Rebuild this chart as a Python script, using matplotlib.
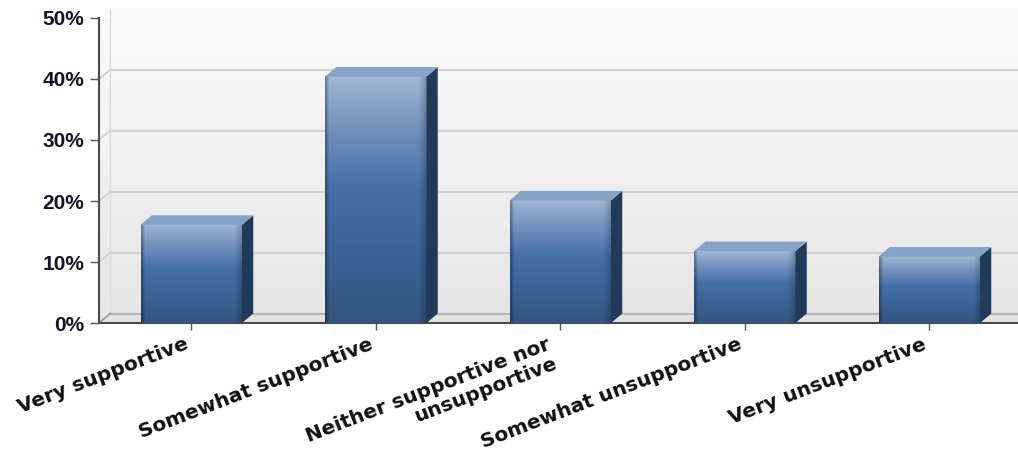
import numpy as np
import matplotlib.pyplot as plt
from matplotlib.colors import to_rgb
from matplotlib.patches import Polygon

categories = ["Very supportive", "Somewhat supportive", "Neither supportive nor\nunsupportive",
              "Somewhat unsupportive", "Very unsupportive"]
values = [16.1, 40.4, 20.1, 11.8, 10.9]
y_ticks = [0, 10, 20, 30, 40, 50]
y_tick_labels = ["0%", "10%", "20%", "30%", "40%", "50%"]

n = len(categories)
dx, dy = 0.061, 1.55   # depth of the fake 3d
bw = 0.55
right_end = n + dx + 0.3


def vgrad(stops, colors, rows=256):
    t = np.linspace(0, 1, rows)
    cols = np.array([to_rgb(c) for c in colors])
    return np.stack([np.interp(t, stops, cols[:, k]) for k in range(3)], axis=1)


fig = plt.figure(figsize=(10.18, 4.51), dpi=100)
ax = fig.add_axes([0.09725, 0.2838, 0.9062, 0.6763])
ax.set_facecolor("white")

# back wall
wall = vgrad([0, 1], ["#e6e6e6", "#fbfbfb"])
wall = np.repeat(wall[:, None, :], 2, axis=1)
ax.imshow(wall, extent=[dx, right_end, dy, 50 + dy], origin="lower",
          aspect="auto", clip_on=False, zorder=0)

# left wall
lw_poly = Polygon([(0, 0), (dx, dy), (dx, 50 + dy), (0, 50)], closed=True,
                  facecolor="none", edgecolor="none", transform=ax.transData)
ax.add_patch(lw_poly)
lw_img = ax.imshow(wall, extent=[0, dx, 0, 50 + dy], origin="lower",
                   aspect="auto", clip_on=True, zorder=0)
lw_img.set_clip_path(lw_poly)

# floor
floor = Polygon([(0, 0), (right_end, 0), (right_end, dy), (dx, dy)], closed=True,
                facecolor="#e2e2e2", edgecolor="none", zorder=1, clip_on=False)
ax.add_patch(floor)
ax.plot([dx, right_end], [dy, dy], color="#b5b5b5", lw=1.5, zorder=1.2, clip_on=False)
ax.plot([0, dx], [0, dy], color="#9a9a9a", lw=1.2, zorder=1.2)

# gridlines on wall
for v in y_ticks[1:-1]:
    ax.plot([dx, right_end], [v + dy, v + dy], color="#d3d3d3", lw=1.6,
            zorder=1, clip_on=False)
    ax.plot([0, dx], [v, v + dy], color="#cfcfcf", lw=1.2, zorder=1)
ax.plot([dx, dx], [dy, 50 + dy], color="#dddddd", lw=1.0, zorder=1, clip_on=False)

# bars
front = vgrad([0, 0.35, 0.55, 0.8, 1.0],
              ["#32567f", "#3d669a", "#4470a6", "#7593be", "#a1b8d6"], rows=200)
W = 80
hx = np.ones(W)
hx[:4] = np.linspace(0.68, 1, 4)
hx[-7:] = np.linspace(1, 0.78, 7)
front_img = front[:, None, :] * hx[None, :, None]

for i, v in enumerate(values):
    x0 = i + 0.5 - bw / 2
    x1 = x0 + bw
    ax.imshow(front_img, extent=[x0, x1, 0, v], origin="lower", aspect="auto",
              interpolation="bilinear", zorder=3)
    side = Polygon([(x1, 0), (x1 + dx, dy), (x1 + dx, v + dy), (x1, v)], closed=True,
                   facecolor="#223a5a", edgecolor="none", zorder=3)
    top = Polygon([(x0, v), (x1, v), (x1 + dx, v + dy), (x0 + dx, v + dy)], closed=True,
                  facecolor="#86a2c6", edgecolor="none", zorder=3, clip_on=False)
    ax.add_patch(side)
    ax.add_patch(top)

ax.set_xlim(0, n)
ax.set_ylim(0, 50)

ax.set_xticks([i + 0.5 for i in range(n)])
ax.set_xticklabels(categories, rotation=21, ha="right", rotation_mode="default",
                   fontfamily="DejaVu Sans", fontweight="bold", fontsize=14.5,
                   color="#111111", linespacing=1.1)
ax.set_yticks(y_ticks)
ax.set_yticklabels(y_tick_labels, fontfamily="Liberation Sans", fontweight="bold",
                   fontsize=15, color="#14142a")

ax.tick_params(axis="x", length=5, width=1, color="#555555", pad=3.5)
ax.tick_params(axis="y", length=6.5, width=1, color="#555555", pad=4.3)

for s in ["top", "right"]:
    ax.spines[s].set_visible(False)
for s in ["left", "bottom"]:
    ax.spines[s].set_color("#4a4a4a")
    ax.spines[s].set_linewidth(1.5)

fig.savefig("out.png", dpi=100)
